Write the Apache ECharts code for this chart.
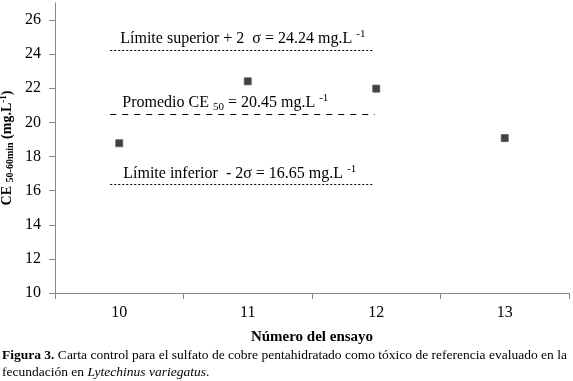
<!DOCTYPE html>
<html>
<head>
<meta charset="utf-8">
<script src="https://cdn.jsdelivr.net/npm/echarts@6/dist/echarts.min.js"></script>
<style>
  html, body { margin: 0; padding: 0; background: #fff; }
  #chart { width: 573px; height: 381px; }
</style>
</head>
<body>
<div id="chart"></div>
<script>
// ensayos y CE50-60min
var ensayos = [10, 11, 12, 13]
var ceValores = [18.78, 22.41, 21.98, 19.08]
var yTicks = [10, 12, 14, 16, 18, 20, 22, 24, 26]
var xTicks = [9.5, 10.5, 11.5, 12.5, 13.5]

// lineas de control: nivel dibujado y tramo en x
var limiteNiveles = [24.24, 20.5, 16.35]
var limiteDesde = [9.93, 9.93, 9.93]
var limiteHasta = [11.97, 11.99, 11.97]
var limiteTextos = [
  '{t|Límite superior + 2  σ = 24.24 mg.L }{sup|-1}',
  '{t|Promedio CE }{sub|50}{t| = 20.45 mg.L }{sup|-1}',
  '{t|Límite inferior  - 2σ = 16.65 mg.L }{sup|-1}'
]
var limiteSangria = [10, 12, 13]
var limiteTipos = [[2, 2], [6, 6], [2, 2]]

var serif = '"Liberation Serif", "DejaVu Serif", serif'

var richTexto = {
  t: { fontFamily: serif, fontSize: 16, color: '#000', lineHeight: 20 },
  sup: { fontFamily: serif, fontSize: 11, color: '#000', verticalAlign: 'top', padding: [0, 0, 8, 0] },
  sub: { fontFamily: serif, fontSize: 11, color: '#000', padding: [8, 0, 0, 0] }
}

var marcas = limiteNiveles.map(function (nivel, i) {
  return [
    {
      coord: [limiteDesde[i], nivel],
      lineStyle: { type: limiteTipos[i], color: '#000', width: 1 },
      label: {
        show: true,
        position: 'insideStartTop',
        distance: [limiteSangria[i], 1],
        formatter: limiteTextos[i],
        rich: richTexto
      }
    },
    { coord: [limiteHasta[i], nivel] }
  ]
})

var chart = echarts.init(document.getElementById('chart'))
chart.setOption({
  animation: false,
  grid: { left: 55, right: 4, top: 3, bottom: 88, outerBoundsMode: 'none', containLabel: false },
  xAxis: {
    type: 'value',
    min: 9.5,
    max: 13.5,
    name: 'Número del ensayo',
    nameLocation: 'middle',
    nameGap: 37,
    nameTextStyle: { fontFamily: serif, fontSize: 15, fontWeight: 'bold', color: '#000' },
    axisLine: { lineStyle: { color: '#888', width: 1 } },
    axisTick: { show: true, length: 6, customValues: xTicks, lineStyle: { color: '#888' } },
    axisLabel: { customValues: ensayos, fontFamily: serif, fontSize: 16, color: '#000', margin: 12 },
    splitLine: { show: false }
  },
  yAxis: {
    type: 'value',
    min: 10,
    max: 27,
    name: '{b|CE }{sub|50-60min}{b| (mg.L}{sup|-1}{b|)}',
    nameLocation: 'middle',
    nameRotate: 90,
    nameGap: 40,
    nameMoveOverlap: false,
    nameTextStyle: {
      rich: {
        b: { fontFamily: serif, fontSize: 14, fontWeight: 'bold', color: '#000', lineHeight: 16 },
        sub: { fontFamily: serif, fontSize: 10, fontWeight: 'bold', color: '#000', padding: [6, 0, 0, 0] },
        sup: { fontFamily: serif, fontSize: 9, fontWeight: 'bold', color: '#000', verticalAlign: 'top', padding: [0, 0, 6, 0] }
      }
    },
    axisLine: { show: true, lineStyle: { color: '#888', width: 1 } },
    axisTick: { show: true, length: 6, customValues: yTicks, lineStyle: { color: '#888' } },
    axisLabel: { customValues: yTicks, fontFamily: serif, fontSize: 16, color: '#000', margin: 14 },
    splitLine: { show: false }
  },
  series: [
    {
      type: 'scatter',
      symbol: 'rect',
      symbolSize: 7,
      itemStyle: { color: '#111', borderColor: '#555', borderWidth: 1 },
      data: ensayos.map(function (e, i) { return [e, ceValores[i]] }),
      markLine: {
        silent: true,
        symbol: ['none', 'none'],
        data: marcas
      }
    }
  ],
  graphic: [
    {
      type: 'text',
      left: 2,
      top: 347,
      style: {
        text: '{b|Figura 3.} Carta control para el sulfato de cobre pentahidratado como tóxico de referencia evaluado en la\nfecundación en {i|Lytechinus variegatus}.',
        fontFamily: serif,
        fontSize: 13.5,
        lineHeight: 17,
        fill: '#000',
        rich: {
          b: { fontFamily: serif, fontSize: 13.5, fontWeight: 'bold', fill: '#000' },
          i: { fontFamily: serif, fontSize: 13.5, fontStyle: 'italic', fill: '#000' }
        }
      }
    }
  ]
})
</script>
</body>
</html>
